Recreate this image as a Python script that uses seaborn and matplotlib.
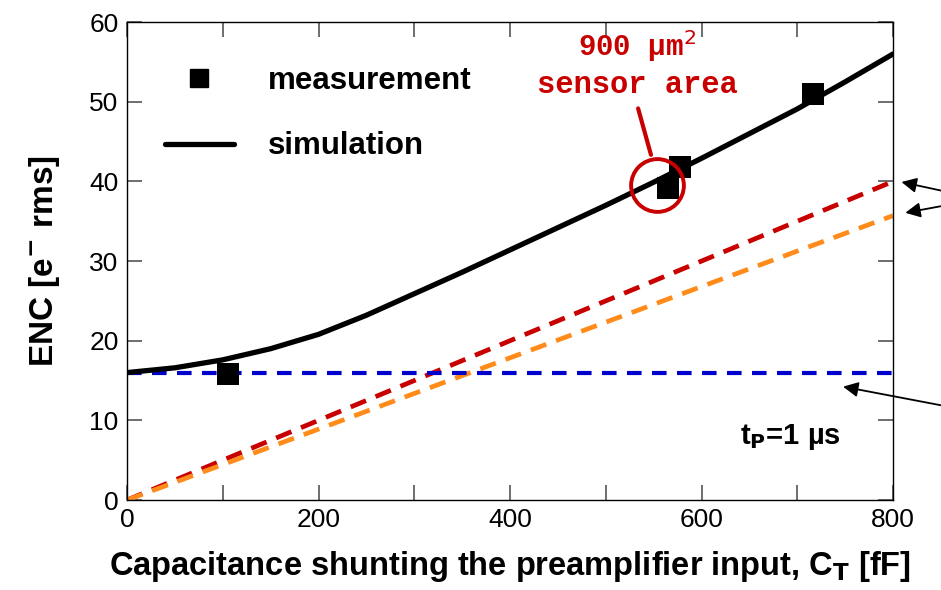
import numpy as np
import pandas as pd
import matplotlib
matplotlib.use("Agg")
import matplotlib.pyplot as plt
import seaborn as sns
from matplotlib.lines import Line2D

# simulation curve (total ENC)
sim_ct = [0, 50, 100, 150, 200, 250, 300, 350, 400, 450, 500, 550, 600, 650, 700, 750, 800]
sim_enc = [16.0, 16.6, 17.6, 19.0, 20.8, 23.2, 25.9, 28.6, 31.4, 34.2, 37.0, 39.9, 42.9, 46.0, 49.1, 52.5, 56.0]

# measured points
meas_ct = [105, 565, 578, 716]
meas_enc = [15.8, 39.2, 41.8, 51.0]

# noise components (dashed lines)
comp_ct = [0, 200, 400, 600, 800]
red_enc = [0.0, 10.0, 20.0, 30.0, 40.0]
orange_enc = [0.0, 8.9, 17.85, 26.8, 35.7]
blue_enc = [16.0, 16.0, 16.0, 16.0, 16.0]

highlight_ct, highlight_enc = 553, 39.5

RED = "#c80000"
ORANGE = "#ff8c1a"
BLUE = "#0000cc"

sns.set_style("ticks")
plt.rcParams['font.family'] = ['Liberation Sans', 'DejaVu Sans']
plt.rcParams['text.color'] = 'black'
plt.rcParams['axes.labelcolor'] = 'black'
plt.rcParams['xtick.labelcolor'] = 'black'
plt.rcParams['ytick.labelcolor'] = 'black'

fig = plt.figure(figsize=(9.41, 5.90), dpi=100)
ax = fig.add_axes([0.135, 0.1525, 0.814, 0.81])

sns.lineplot(x=comp_ct, y=red_enc, ax=ax, color=RED, lw=3.4, linestyle=(0, (3.5, 2.2)))
sns.lineplot(x=comp_ct, y=orange_enc, ax=ax, color=ORANGE, lw=3.4, linestyle=(0, (3.5, 2.2)))
sns.lineplot(x=comp_ct, y=blue_enc, ax=ax, color=BLUE, lw=3.0, linestyle=(0, (3.5, 2.5)))
sns.lineplot(x=sim_ct, y=sim_enc, ax=ax, color="black", lw=3.8)
sns.scatterplot(x=meas_ct, y=meas_enc, ax=ax, color="black", marker="s", s=230, linewidth=0, zorder=5)

# red circle around the 900 um^2 point
ax.plot(highlight_ct, highlight_enc, marker="o", ms=38, mfc="none", mec=RED, mew=2.8, zorder=6)
ax.annotate("", xy=(548, 43.0), xytext=(533, 49.5),
            arrowprops=dict(arrowstyle="-", color=RED, lw=3))
mono = ["Liberation Mono", "DejaVu Sans Mono"]
ax.text(533, 57.0, "900 \u00b5m$^2$", color=RED, fontsize=21, fontweight="bold",
        family=mono, ha="center", va="center")
ax.text(533, 52.1, "sensor area", color=RED, fontsize=22, fontweight="bold",
        family=mono, ha="center", va="center")

ax.text(745, 7.9, "t$_\\mathbf{P}$=1 \u00b5s", fontsize=21, fontweight="bold", ha="right", va="center")

# arrows pointing to the component lines from outside
arrow_kw = dict(arrowstyle="-|>,head_length=0.9,head_width=0.45", color="black", lw=1.3)
for xy, xyt in [((806, 40.0), (1.07, 0.645)),
                ((810, 36.0), (1.07, 0.617)),
                ((745, 14.3), (1.07, 0.196))]:
    ax.annotate("", xy=xy, xycoords="data", xytext=xyt, textcoords="axes fraction",
                arrowprops=arrow_kw, annotation_clip=False)

# legend
handles = [Line2D([], [], color="black", marker="s", linestyle="none", markersize=13),
           Line2D([], [], color="black", lw=3.8)]
leg = ax.legend(handles, ["measurement", "simulation"], loc="upper left",
                bbox_to_anchor=(0.013, 0.968), frameon=False, handlelength=2.2,
                handletextpad=1.1, labelspacing=1.15,
                prop=dict(family="Liberation Sans", weight="bold", size=22.5))

ax.set_xlim(0, 800)
ax.set_ylim(0, 60)
ax.set_xticks([0, 200, 400, 600, 800])
ax.set_xticks([100, 300, 500, 700], minor=True)
ax.set_yticks([0, 10, 20, 30, 40, 50, 60])
ax.tick_params(which="both", direction="in", top=True, right=True, length=11,
               width=1.2, color="#555555", labelsize=19, pad=6)
for sp in ax.spines.values():
    sp.set_linewidth(1.0)
    sp.set_color("black")

ax.set_xlabel("Capacitance shunting the preamplifier input, C$_\\mathbf{T}$ [fF]",
              fontsize=23.5, fontweight="bold", labelpad=12)
ax.set_ylabel("ENC [e$^\\mathbf{-}$ rms]", fontsize=24, fontweight="bold", labelpad=20)

fig.savefig("out.png", dpi=100)
